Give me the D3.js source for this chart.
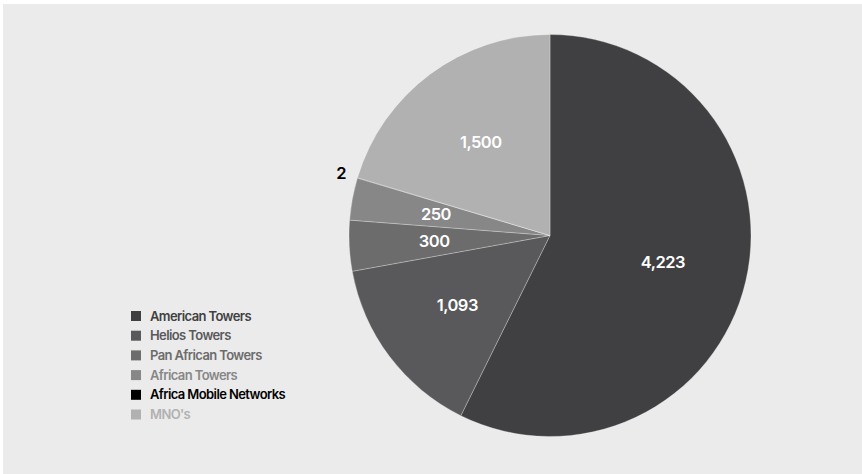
<!DOCTYPE html>
<html>
<head>
<meta charset="utf-8">
<script src="https://cdn.jsdelivr.net/npm/d3@7"></script>
<style>
  body { margin: 0; background: #ffffff; }
  svg { display: block; font-family: Inter, "Liberation Sans", sans-serif; }
</style>
</head>
<body>
<div id="chart"></div>
<script>
// Data
var companies = ["American Towers", "Helios Towers", "Pan African Towers", "African Towers", "Africa Mobile Networks", "MNO's"];
var towers = [4223, 1093, 300, 250, 2, 1500];
var shades = ["#404042", "#59595b", "#6c6c6c", "#878787", "#000000", "#b1b1b1"];

var svgWidth = 862;
var svgHeight = 474;
var radius = 201;

var svg = d3.select("#chart")
  .append("svg")
  .attr("width", svgWidth)
  .attr("height", svgHeight);

// grey panel
svg.append("rect")
  .attr("x", 3)
  .attr("y", 4)
  .attr("width", svgWidth - 3)
  .attr("height", svgHeight - 4)
  .attr("fill", "#ebebeb");

var data = companies.map(function(c, i) {
  return { name: c, value: towers[i] };
});

var color = d3.scaleOrdinal()
  .domain(companies)
  .range(shades);

var pie = d3.pie()
  .sort(null)
  .value(d => d.value);

var arc = d3.arc()
  .innerRadius(0)
  .outerRadius(radius);

var labelArc = d3.arc()
  .innerRadius(116)
  .outerRadius(116);

var outerArc = d3.arc()
  .innerRadius(radius + 17)
  .outerRadius(radius + 17);

var pieGroup = svg.append("g")
  .attr("transform", "translate(550, 235.5)");

var arcs = pie(data);

pieGroup.selectAll("path")
  .data(arcs)
  .enter()
  .append("path")
  .attr("d", arc)
  .attr("fill", d => color(d.data.name))
  .attr("stroke", "rgba(255,255,255,0.35)")
  .attr("stroke-width", 0.8);

// value labels, tiny slice gets its label outside
pieGroup.selectAll("text")
  .data(arcs)
  .enter()
  .append("text")
  .attr("transform", function(d) {
    var small = d.endAngle - d.startAngle < 0.05;
    var c = small ? outerArc.centroid(d) : labelArc.centroid(d);
    return `translate(${c[0]}, ${c[1]})`;
  })
  .attr("dy", "0.35em")
  .attr("text-anchor", "middle")
  .attr("fill", d => (d.endAngle - d.startAngle < 0.05) ? "#000000" : "#ffffff")
  .attr("font-size", "16.5px")
  .attr("font-weight", 600)
  .attr("letter-spacing", "-0.5px")
  .text(d => d3.format(",")(d.value));

// legend
var legend = svg.append("g")
  .attr("transform", "translate(131, 311)");

var rows = legend.selectAll("g")
  .data(companies)
  .enter()
  .append("g")
  .attr("transform", (d, i) => `translate(0, ${i * 19.7})`);

rows.append("rect")
  .attr("width", 10)
  .attr("height", 10)
  .attr("fill", d => color(d));

rows.append("text")
  .attr("x", 19)
  .attr("y", 5)
  .attr("dy", "0.35em")
  .attr("fill", d => color(d))
  .attr("font-size", "13px")
  .attr("font-weight", 600)
  .attr("letter-spacing", "-0.6px")
  .text(d => d);
</script>
</body>
</html>
